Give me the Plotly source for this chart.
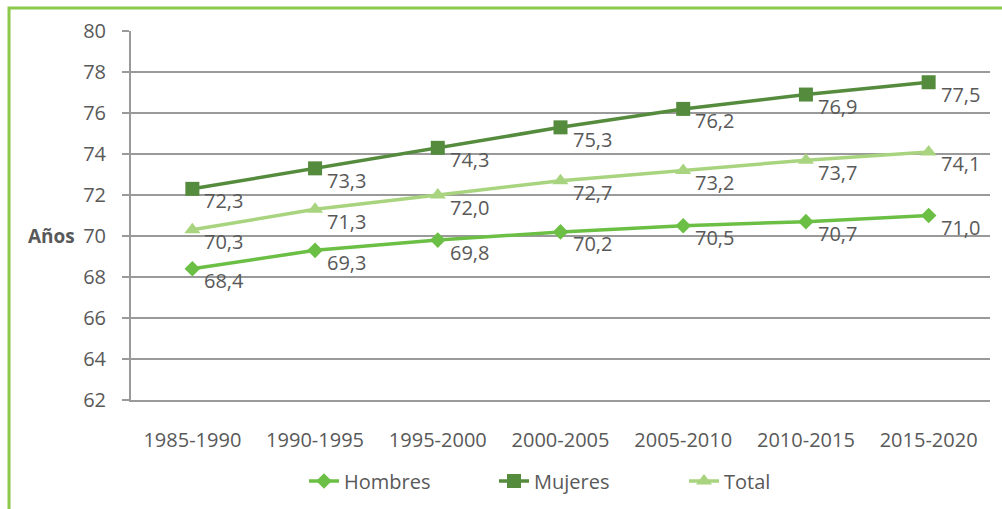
import plotly.graph_objects as go

categories = ["1985-1990", "1990-1995", "1995-2000", "2000-2005", "2005-2010", "2010-2015", "2015-2020"]
hombres = [68.4, 69.3, 69.8, 70.2, 70.5, 70.7, 71.0]
mujeres = [72.3, 73.3, 74.3, 75.3, 76.2, 76.9, 77.5]
total = [70.3, 71.3, 72.0, 72.7, 73.2, 73.7, 74.1]
y_ticks = [62, 64, 66, 68, 70, 72, 74, 76, 78, 80]

series = [
    ("Hombres", hombres, "#6cbf45", "diamond", 12),
    ("Mujeres", mujeres, "#558b3d", "square", 14),
    ("Total", total, "#a9d47f", "triangle-up", 14),
]

FONT = "Open Sans"
GRAY = "#595959"
FS = 20

fig = go.Figure()
annotations = []
for name, vals, color, sym, size in series:
    fig.add_trace(go.Scatter(
        x=categories, y=vals, name=name, mode="lines+markers",
        line=dict(color=color, width=3.5),
        marker=dict(symbol=sym, size=size, color=color),
    ))
    for c, v in zip(categories, vals):
        annotations.append(dict(
            x=c, y=v, xref="x", yref="y", text=f"{v:.1f}".replace(".", ","),
            showarrow=False, xanchor="left", yanchor="middle",
            xshift=10, yshift=-12,
            font=dict(family=FONT, size=FS, color=GRAY),
        ))

annotations.append(dict(
    x=(77 - 131) / 859, y=70, xref="paper", yref="y", text="<b>Años</b>", showarrow=False,
    xanchor="right", yanchor="middle",
    font=dict(family=FONT, size=19, color=GRAY),
))

fig.update_layout(
    width=1002, height=509,
    margin=dict(l=131, r=12, t=31, b=109, autoexpand=False),
    paper_bgcolor="white", plot_bgcolor="white",
    font=dict(family=FONT, size=FS, color=GRAY),
    showlegend=True,
    legend=dict(orientation="h", x=(304 - 131) / 859, xanchor="left",
                yref="container", y=1 - 481 / 509, yanchor="middle",
                font=dict(family=FONT, size=FS, color=GRAY),
                entrywidth=145, traceorder="normal"),
    annotations=annotations,
    shapes=[dict(type="path", xref="paper", yref="paper",
                 path="M -0.142,-0.4 L -0.142,1.0623 L 1.2,1.0623",
                 line=dict(color="#8cc84b", width=3))],
)
fig.update_xaxes(
    showgrid=False, showline=True, linecolor="#9a9a9a", linewidth=2,
    ticks="", tickfont=dict(family=FONT, size=FS, color=GRAY),
    range=[-0.5, 6.5], ticklabelstandoff=21, automargin=False,
)
fig.update_yaxes(
    range=[62, 80], tickvals=y_ticks, showgrid=True, gridcolor="#9a9a9a", gridwidth=2,
    showline=True, linecolor="#9a9a9a", linewidth=2, ticks="outside", ticklen=7,
    tickcolor="#9a9a9a", tickwidth=2, zeroline=False, ticklabelstandoff=12,
    tickfont=dict(family=FONT, size=FS, color=GRAY), automargin=False,
)

fig.write_html("out.html")
